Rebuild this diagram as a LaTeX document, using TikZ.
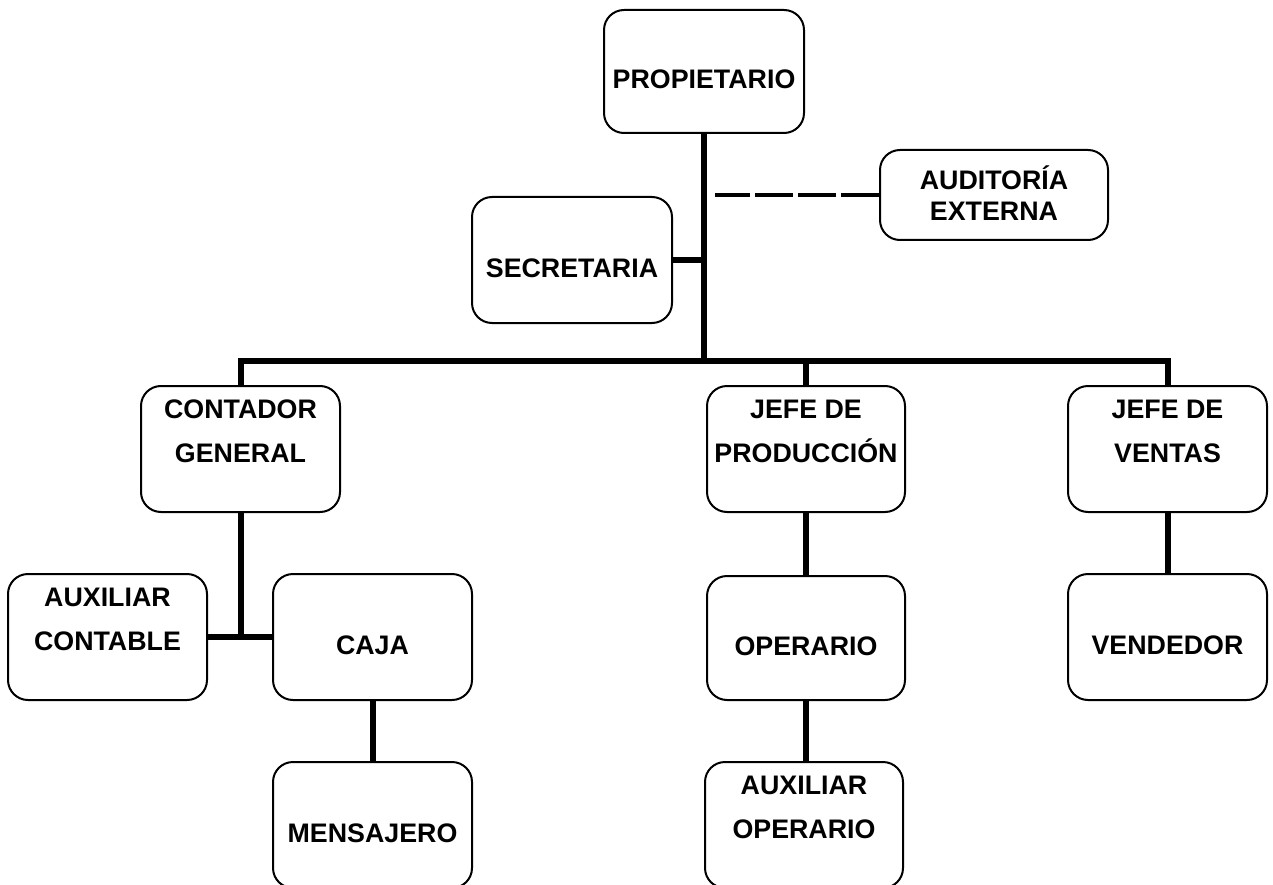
\documentclass[tikz,border=0pt]{standalone}
\usepackage{fontspec}
\setmainfont{Liberation Sans}
% line strut: 44pt line pitch, text sits a little high in each line slot
\newcommand{\sk}{\rule[-2.5pt]{0pt}{32pt}}
\newcommand{\skb}{\rule[-5.5pt]{0pt}{31pt}}
% single caption set a little lower in its middle line slot
\newcommand{\lowtxt}[1]{\raisebox{-4pt}{#1}}
\tikzset{
  orgbox/.style={draw, line width=2pt, rounded corners=20pt, fill=white,
    inner sep=0pt, align=center, minimum width=199pt, minimum height=126pt,
    font=\fontsize{26.8}{44}\selectfont\bfseries},
  link/.style={line width=6pt, line cap=butt},
  dashlink/.style={line width=3.5pt, dash pattern=on 38pt off 5pt},
}
\begin{document}
\begin{tikzpicture}[x=1pt, y=-1pt]
  \clip (0,0) rectangle (1273,885);
  \fill[white] (0,0) rectangle (1273,885);

  % boxes
  \node[orgbox, minimum width=200pt, minimum height=123pt] (prop) at (704,71.5) {\sk\\\lowtxt{PROPIETARIO}\sk\\\sk};
  \node[orgbox, minimum width=228pt, minimum height=90pt,
        font=\fontsize{26.8}{31}\selectfont\bfseries] (aud) at (994,195) {AUDITORÍA\skb\\EXTERNA\skb};
  \node[orgbox, minimum width=200pt] (sec) at (572,260) {\sk\\\lowtxt{SECRETARIA}\sk\\\sk};
  \node[orgbox] (cont) at (240.5,449) {CONTADOR\sk\\GENERAL\sk\\\sk};
  \node[orgbox, minimum width=198pt] (jprod) at (806,449) {JEFE DE\sk\\PRODUCCIÓN\sk\\\sk};
  \node[orgbox] (jven) at (1167.5,449) {JEFE DE\sk\\VENTAS\sk\\\sk};
  \node[orgbox] (auxc) at (107.5,637) {AUXILIAR\sk\\CONTABLE\sk\\\sk};
  \node[orgbox] (caja) at (372.5,637) {\sk\\\lowtxt{CAJA}\sk\\\sk};
  \node[orgbox] (mens) at (372.5,825) {\sk\\\lowtxt{MENSAJERO}\sk\\\sk};
  \node[orgbox, minimum width=198pt, minimum height=124pt] (oper) at (806,638) {\sk\\\lowtxt{OPERARIO}\sk\\\sk};
  \node[orgbox, minimum width=198pt] (auxop) at (804,825) {AUXILIAR\sk\\OPERARIO\sk\\\sk};
  \node[orgbox] (vend) at (1167.5,637) {\sk\\\lowtxt{VENDEDOR}\sk\\\sk};

  % junction points
  \coordinate (hub) at (704,361);
  \coordinate (dashend) at (715,195);

  % connectors
  \draw[link] (prop.south) -- (hub);
  \draw[link] (sec.east) -- (sec.east -| hub);
  \draw[link] (cont.north) |- (hub) -| (jven.north);
  \draw[link] (jprod.north) -- (jprod.north |- hub);
  \draw[dashlink] (aud.west) -- (dashend);

  \draw[link] (cont.south) -- (cont.south |- caja.west);
  \draw[link] (auxc.east) -- (caja.west);
  \draw[link] (caja.south) -- (mens.north);

  \draw[link] (jprod.south) -- (oper.north);
  \draw[link] (oper.south) -- (oper.south |- auxop.north);

  \draw[link] (jven.south) -- (vend.north);
\end{tikzpicture}
\end{document}
